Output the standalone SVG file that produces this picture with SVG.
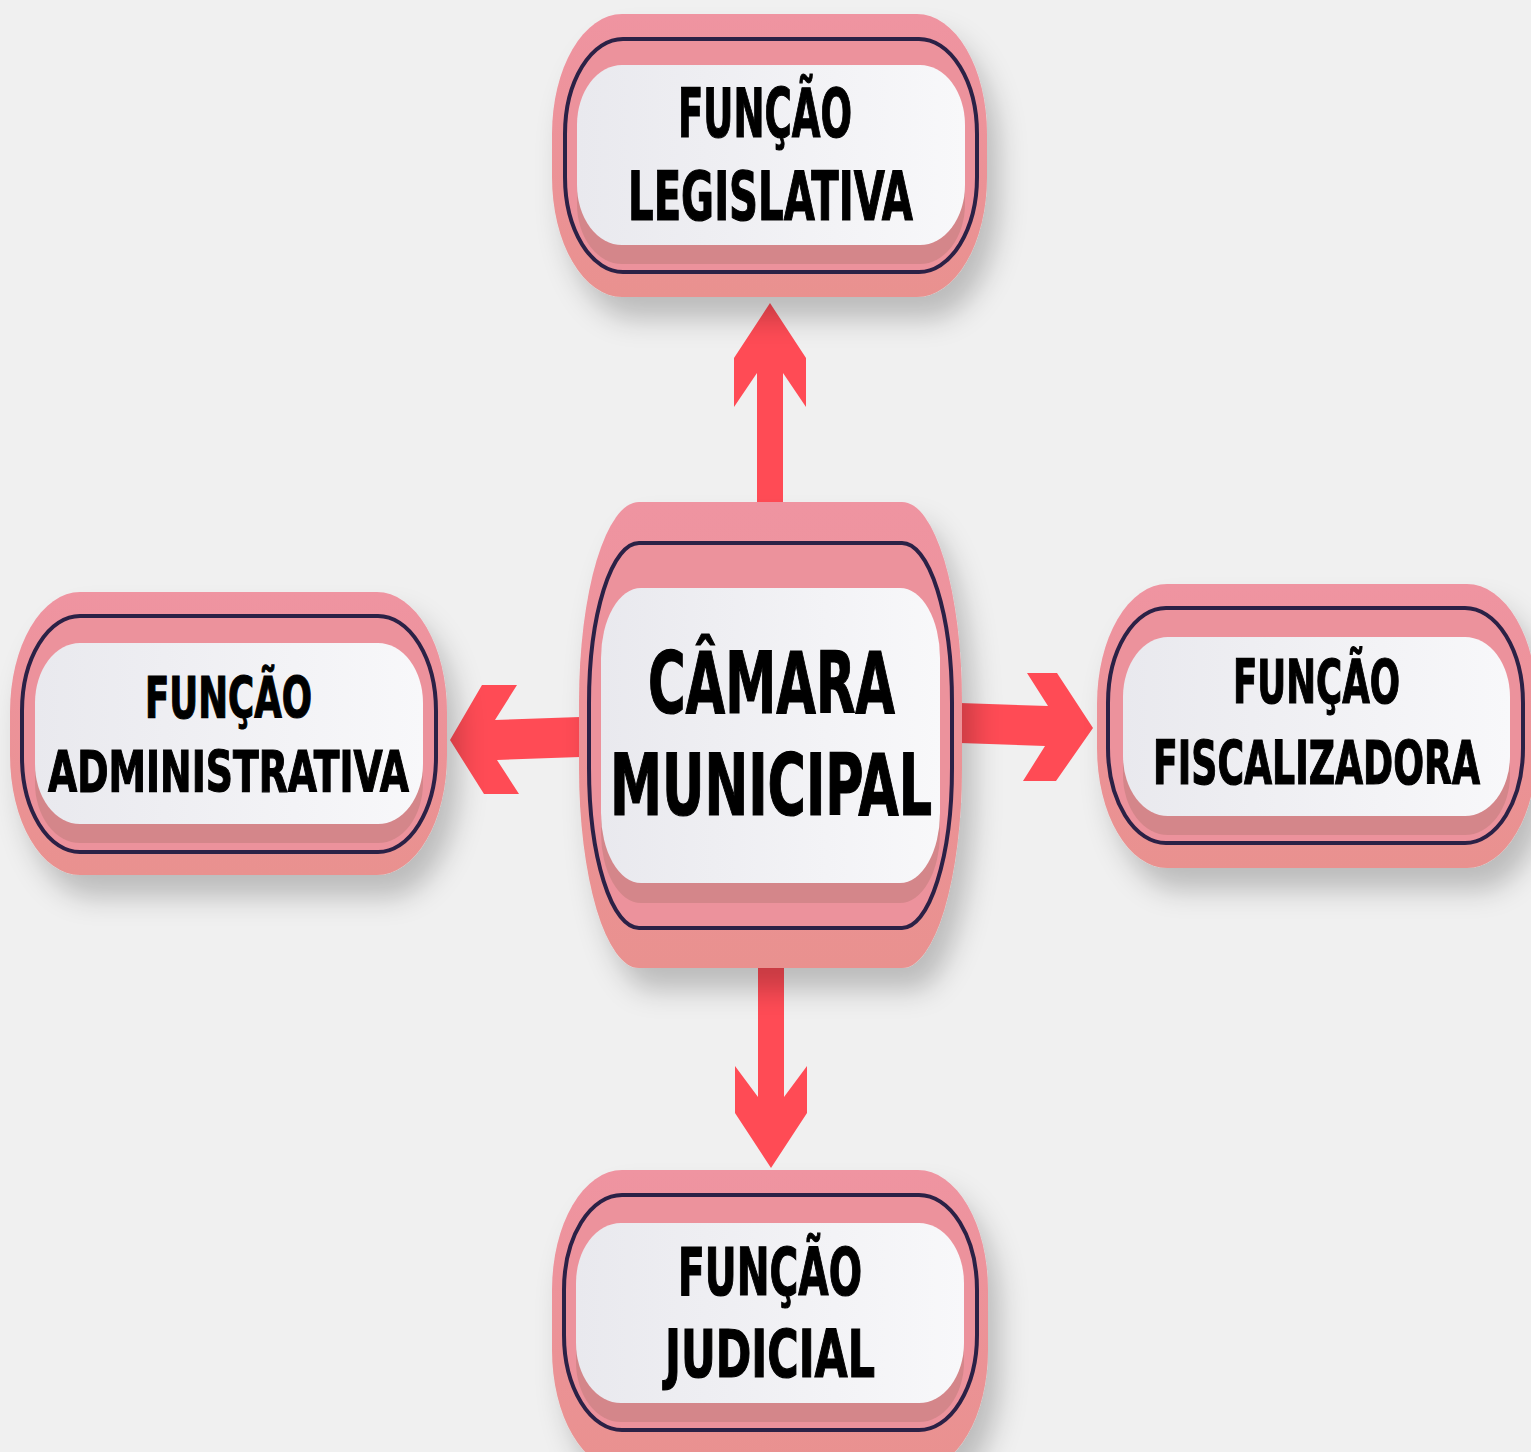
<svg xmlns="http://www.w3.org/2000/svg" width="1531" height="1452" viewBox="0 0 1531 1452">
<defs>
<filter id="sh" x="-20%" y="-20%" width="150%" height="150%">
<feDropShadow dx="12" dy="22" stdDeviation="14" flood-color="#000" flood-opacity="0.22"/>
</filter>
<linearGradient id="pinkG" x1="0" y1="0" x2="0" y2="1">
<stop offset="0" stop-color="#ef94a1"/>
<stop offset="1" stop-color="#e9918f"/>
</linearGradient>
<linearGradient id="whiteG" x1="0" y1="0" x2="1" y2="0">
<stop offset="0" stop-color="#e9e9ee"/>
<stop offset="1" stop-color="#f8f8fa"/>
</linearGradient>
<style>
.outer{fill:url(#pinkG);filter:url(#sh)}
.navy{fill:#ec929c;stroke:#2b2146;stroke-width:4}
.band{fill:#d4868a}
.white{fill:url(#whiteG)}
.lbl{font-family:"DejaVu Sans Condensed","DejaVu Sans",sans-serif;font-stretch:condensed;font-weight:bold;fill:#000;stroke:#000;stroke-width:1.2;text-anchor:middle}
.arrow{fill:#ff4b55}
</style>
</defs>
<rect width="1531" height="1452" fill="#f0f0f0"/>
<g id="connectors">
<polygon class="arrow" points="770,303 806,358 806,407 783,373 783,502 757,502 757,373 734,407 734,358"/>
<polygon class="arrow" points="771,1168 807,1113 807,1066 784,1097 784,968 758,968 758,1097 735,1066 735,1113"/>
<polygon class="arrow" points="450,740 482,685 517,685 495,720 580,717 580,757 497,760 519,794 484,794"/>
<polygon class="arrow" points="960,703 1048,706 1027,673 1057,673 1093,728 1056,781 1023,781 1045,746 960,743"/>
</g>
<g id="node-legislativa">
<rect class="outer" x="552" y="14" width="435" height="283" rx="70" ry="120"/>
<rect class="navy" x="565" y="39" width="412" height="233" rx="58" ry="95"/>
<rect class="band" x="577" y="83" width="388" height="181" rx="45" ry="60"/>
<rect class="white" x="577" y="65" width="388" height="180" rx="45" ry="60"/>
<text class="lbl" x="765" y="137" font-size="67" textLength="174" lengthAdjust="spacingAndGlyphs">FUNÇÃO</text>
<text class="lbl" x="770.5" y="220" font-size="67" textLength="285" lengthAdjust="spacingAndGlyphs">LEGISLATIVA</text>
</g>
<g id="node-camara">
<rect class="outer" x="579" y="502" width="383" height="466" rx="60" ry="200"/>
<rect class="navy" x="589" y="543" width="363" height="385" rx="50" ry="160"/>
<rect class="band" x="601" y="608" width="339" height="295" rx="40" ry="70"/>
<rect class="white" x="601" y="588" width="339" height="295" rx="40" ry="70"/>
<text class="lbl" x="771.5" y="713" font-size="85" textLength="247" lengthAdjust="spacingAndGlyphs">CÂMARA</text>
<text class="lbl" x="771" y="815" font-size="85" textLength="322" lengthAdjust="spacingAndGlyphs">MUNICIPAL</text>
</g>
<g id="node-administrativa">
<rect class="outer" x="10" y="592" width="437" height="283" rx="70" ry="120"/>
<rect class="navy" x="22" y="616" width="414" height="236" rx="58" ry="95"/>
<rect class="band" x="35" y="661" width="388" height="182" rx="45" ry="60"/>
<rect class="white" x="35" y="643" width="388" height="181" rx="45" ry="60"/>
<text class="lbl" x="228.5" y="718" font-size="57" textLength="167" lengthAdjust="spacingAndGlyphs">FUNÇÃO</text>
<text class="lbl" x="228.5" y="792" font-size="57" textLength="361" lengthAdjust="spacingAndGlyphs">ADMINISTRATIVA</text>
</g>
<g id="node-fiscalizadora">
<rect class="outer" x="1097" y="584" width="440" height="284" rx="70" ry="120"/>
<rect class="navy" x="1108" y="608" width="415" height="235" rx="58" ry="95"/>
<rect class="band" x="1123" y="655" width="387" height="180" rx="45" ry="60"/>
<rect class="white" x="1123" y="637" width="387" height="179" rx="45" ry="60"/>
<text class="lbl" x="1316.5" y="703" font-size="60" textLength="167" lengthAdjust="spacingAndGlyphs">FUNÇÃO</text>
<text class="lbl" x="1316.5" y="784" font-size="60" textLength="327" lengthAdjust="spacingAndGlyphs">FISCALIZADORA</text>
</g>
<g id="node-judicial">
<rect class="outer" x="552" y="1170" width="436" height="300" rx="70" ry="120"/>
<rect class="navy" x="564" y="1195" width="413" height="235" rx="58" ry="95"/>
<rect class="band" x="576" y="1241" width="388" height="181" rx="45" ry="60"/>
<rect class="white" x="576" y="1223" width="388" height="180" rx="45" ry="60"/>
<text class="lbl" x="770" y="1295" font-size="65" textLength="184" lengthAdjust="spacingAndGlyphs">FUNÇÃO</text>
<text class="lbl" x="770" y="1377" font-size="66" textLength="210" lengthAdjust="spacingAndGlyphs">JUDICIAL</text>
</g>
</svg>
